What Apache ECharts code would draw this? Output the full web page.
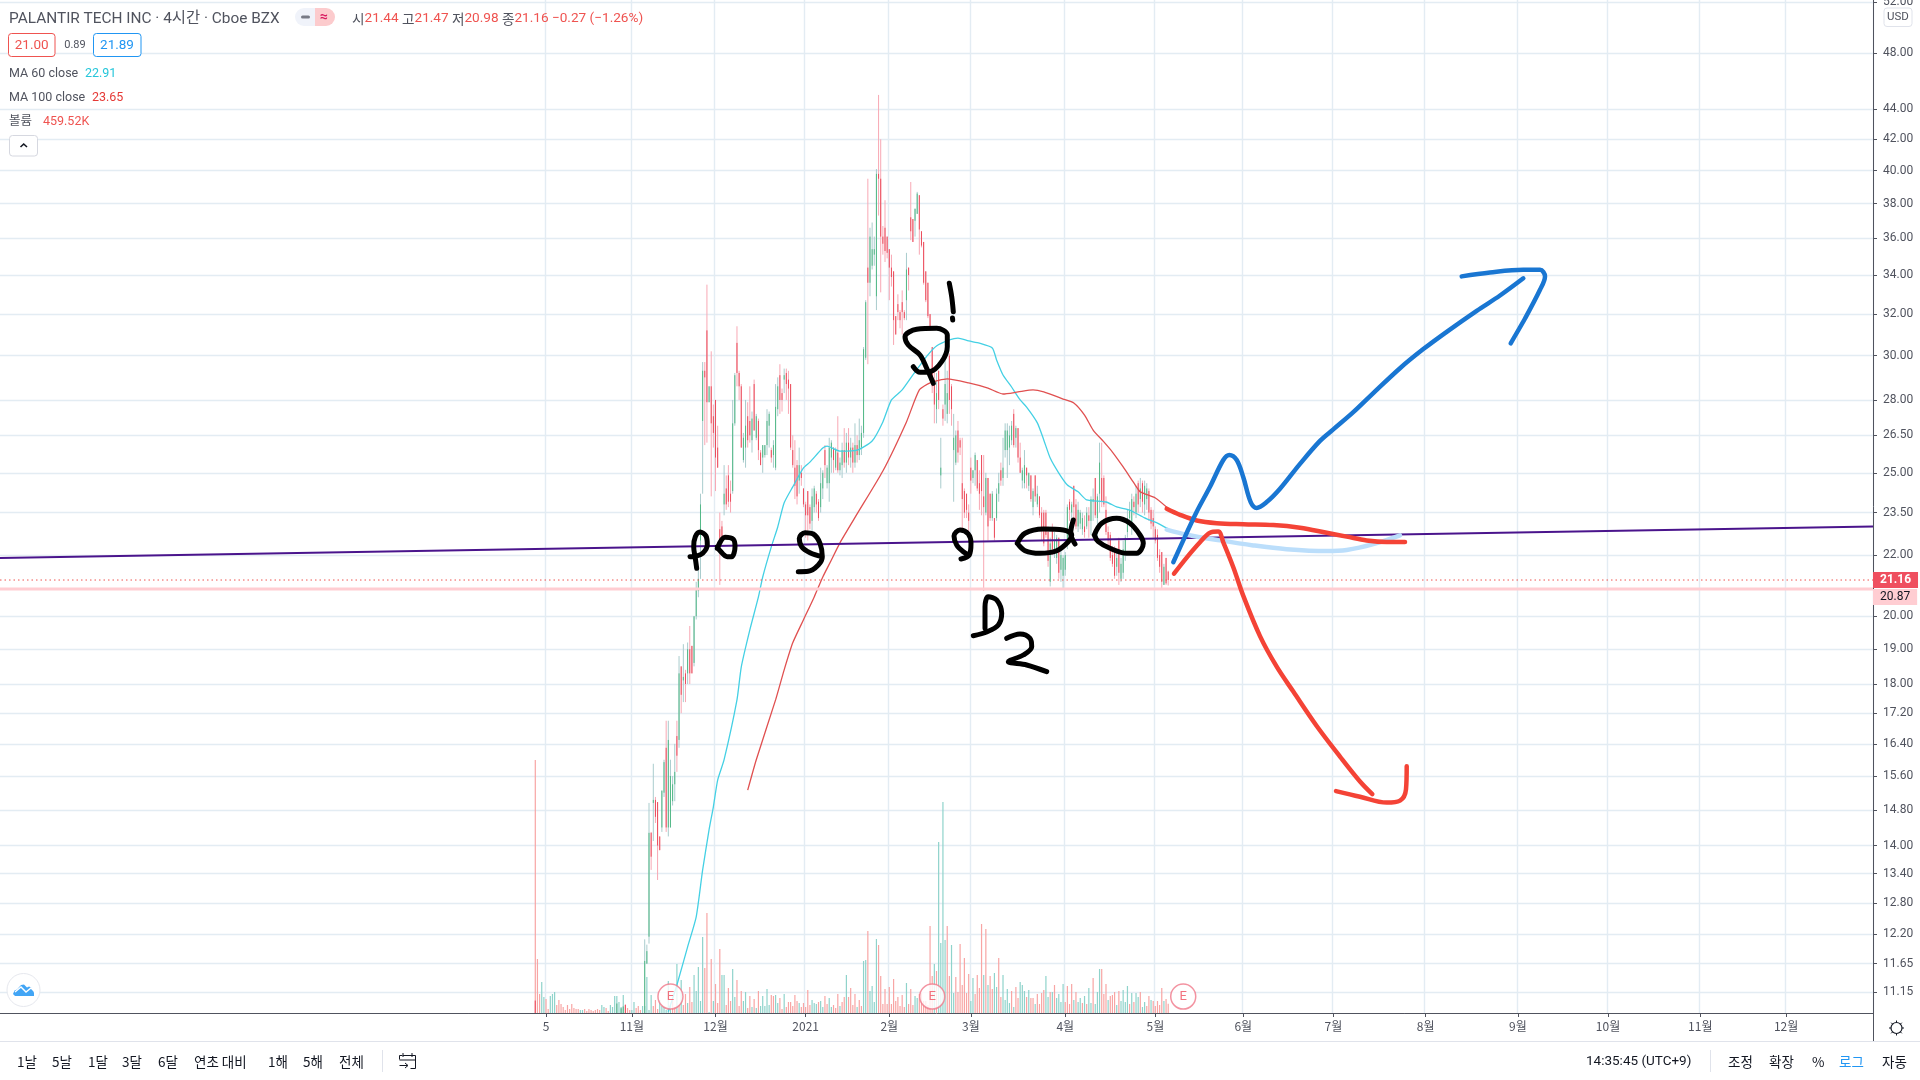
<!DOCTYPE html>
<html><head><meta charset="utf-8">
<style>html,body{margin:0;padding:0;background:#fff}#c{width:1920px;height:1080px}</style>
<script src="https://cdn.jsdelivr.net/npm/echarts@6/dist/echarts.min.js"></script>
</head><body><div id="c"></div>
<script>
// ---------- tick labels ----------
const priceTicks=[52,48,44,42,40,38,36,34,32,30,28,26.5,25,23.5,22,20,19,18,17.2,16.4,15.6,14.8,14,13.4,12.8,12.2,11.65,11.15];
const timeTickLabels=['5','11월','12월','2021','2월','3월','4월','5월','6월','7월','8월','9월','10월','11월','12월'];
const timeTickBars=[5,45,84,126,165,203,247,289,330,372,415,458,500,543,583];
// ---------- candles: first five are the stubs that poke above the axis, the rest run from bar 51 ----------
const stubBars=[0,38,40,41,42];
const openPrices=[11.0,10.5,10.5,10.5,10.93,
10.6,11.65,12.15,14.28,14.96,15.03,14.98,14.2,14.4,15.2,
16.3,14.4,14.4,15.0,15.4,16.6,16.5,18.5,18.1,18.3,
18.3,19.0,19.1,18.6,20.0,20.8,22.5,27.1,29.3,31.2,
27.9,28.6,27.3,28.0,26.0,22.9,23.0,23.8,24.4,24.9,
24.2,24.3,27.0,30.6,29.2,28.6,25.5,26.0,27.3,27.1,
26.3,28.7,26.4,27.1,25.8,25.6,25.7,26.1,26.9,25.9,
25.7,25.2,27.6,29.1,28.3,28.9,29.2,28.9,28.7,25.9,
25.2,25.3,24.7,25.0,24.4,23.8,24.3,23.7,23.2,23.7,
24.2,23.9,23.7,24.4,25.9,24.6,24.6,25.6,26.0,25.2,
25.8,25.1,25.3,25.9,25.4,26.2,25.6,26.0,25.4,26.1,
25.7,26.0,26.6,29.9,34.4,33.6,34.5,35.1,32.9,39.8,
39.5,36.1,36.6,36.1,35.4,34.4,34.2,31.9,32.5,32.1,
32.6,32.1,32.7,34.4,37.2,37.1,37.0,37.4,38.5,36.4,
35.8,34.2,33.6,32.0,30.4,28.7,27.6,29.3,24.9,27.6,
27.8,27.4,30.0,28.6,25.9,25.4,26.7,26.3,24.6,24.3,
24.2,23.5,25.2,24.8,25.1,25.5,24.6,25.7,24.1,23.5,
24.8,24.2,23.3,23.3,23.3,24.2,25.1,24.8,25.9,25.9,
26.0,26.3,27.4,26.4,26.8,25.6,24.7,24.6,25.2,24.5,
24.9,23.7,24.9,23.8,24.1,23.5,23.5,23.5,22.8,21.1,
22.9,22.2,21.9,22.6,21.5,21.3,21.5,22.4,23.9,23.5,
24.5,23.8,23.0,23.1,22.9,23.0,23.0,23.4,23.2,23.9,
24.8,23.3,24.2,24.8,24.8,23.6,22.8,22.7,22.0,22.2,
21.6,22.5,21.2,21.4,22.0,22.8,23.3,23.0,23.9,23.5,
24.6,24.0,24.6,23.8,24.0,24.3,23.6,23.3,22.9,22.7,
22.0,22.1,21.0,21.9,21.44];
const highPrices=[11.0,10.95,10.87,10.9,10.93,
12.1,12.0,14.96,14.3,15.9,15.1,14.98,14.2,15.25,16.0,
17.0,17.0,16.0,15.6,16.4,17.0,18.8,18.5,19.15,18.4,
19.2,19.7,19.1,20.0,21.1,21.5,24.2,29.7,29.7,33.5,
28.6,30.2,27.8,28.0,26.9,23.5,23.2,25.3,24.9,25.3,
24.7,28.0,29.2,31.4,29.3,28.7,26.6,28.0,27.9,28.6,
27.5,28.9,27.4,27.2,25.9,26.1,26.1,27.6,27.5,26.0,
26.3,28.7,29.0,29.6,28.5,29.4,29.4,29.3,28.7,26.5,
26.3,25.5,26.0,25.3,24.4,23.9,24.3,23.8,24.4,24.5,
24.3,24.0,25.2,25.1,26.1,25.3,26.4,26.3,26.0,26.0,
27.3,25.6,26.2,26.8,26.6,26.8,26.4,26.2,27.0,26.5,
27.2,26.9,30.4,32.7,39.5,36.6,36.9,36.1,40.1,45.0,
42.0,36.7,38.2,36.1,35.4,35.1,34.2,31.9,33.0,32.2,
33.2,32.2,35.2,34.4,39.3,37.1,37.7,38.7,38.5,36.4,
35.8,34.2,33.6,32.0,30.4,29.5,29.2,29.3,26.4,27.8,
29.8,29.3,30.1,28.7,27.4,26.7,27.1,26.4,26.4,24.4,
24.2,23.8,25.6,25.1,25.8,25.5,25.1,25.7,25.7,25.0,
24.8,24.2,24.3,23.3,24.4,25.0,25.4,26.4,27.0,27.0,
26.9,27.1,27.6,26.9,26.8,26.2,25.2,25.9,25.2,25.0,
24.9,24.4,24.9,24.5,24.1,23.7,23.6,23.6,23.0,22.6,
23.1,22.8,22.7,22.6,22.2,22.0,22.1,23.8,24.0,23.9,
24.5,24.0,23.9,23.6,23.5,23.4,23.7,23.7,24.1,24.4,
24.8,24.2,26.2,26.2,24.9,24.1,23.0,22.8,22.3,22.3,
22.1,22.6,21.9,22.5,22.7,23.6,23.9,24.2,24.1,24.5,
24.7,24.8,24.7,24.7,24.6,24.4,23.7,23.6,23.0,22.9,
22.2,22.1,21.7,21.9,21.47];
const lowPrices=[10.4,10.4,10.4,10.4,10.4,
10.5,11.65,12.02,13.48,14.1,14.5,13.27,13.9,14.3,15.1,
14.3,14.2,14.4,14.9,15.0,15.7,16.3,17.2,17.5,17.5,
18.0,18.0,18.3,18.5,19.9,20.6,21.2,24.2,26.1,26.2,
27.9,24.1,26.0,24.3,25.2,21.0,22.4,23.4,23.6,23.7,
23.5,24.2,26.9,28.6,28.0,26.0,25.4,25.2,26.0,26.2,
25.8,26.7,26.3,25.5,25.3,25.0,25.6,25.7,26.0,25.4,
25.2,25.1,27.3,27.4,27.5,28.3,28.0,27.4,25.9,25.2,
24.0,23.8,24.2,24.5,23.7,22.6,22.5,22.9,22.8,23.5,
23.5,23.2,23.5,24.0,24.8,24.4,23.9,25.0,25.0,25.1,
25.0,24.9,24.8,25.2,25.0,25.3,25.2,25.0,25.2,25.4,
25.5,25.7,26.4,29.8,29.6,32.9,34.3,34.5,32.2,37.3,
33.1,35.1,34.7,34.9,32.7,33.4,30.5,31.0,31.7,31.3,
31.0,31.7,31.7,33.2,35.9,35.8,36.1,37.4,35.1,35.5,
33.5,32.6,31.8,31.2,28.3,27.0,27.0,27.6,24.4,26.9,
27.1,27.0,27.4,26.9,23.9,25.3,25.4,25.7,22.8,23.3,
23.3,22.5,24.2,24.6,24.5,24.3,23.6,23.4,20.8,23.4,
22.5,23.2,23.2,22.5,23.2,23.9,24.5,24.5,25.6,24.8,
25.3,26.1,26.0,26.0,25.4,25.0,24.4,24.4,24.4,24.3,
23.9,23.4,23.9,23.7,23.3,22.5,22.3,22.6,21.6,20.95,
22.0,21.9,21.7,21.2,21.1,20.85,21.3,22.2,23.2,22.9,
23.3,22.9,22.8,22.9,22.7,22.6,22.9,22.6,22.7,23.2,
23.3,22.6,23.5,23.7,23.7,22.7,22.2,21.8,21.6,21.2,
21.3,21.0,21.1,21.2,21.8,22.6,23.0,22.7,23.4,23.3,
23.5,23.7,23.5,23.4,23.6,23.2,22.9,22.6,22.4,21.8,
21.4,20.85,21.0,21.0,20.98];
const closePrices=[10.5,10.95,10.87,10.9,10.5,
11.7,11.88,14.28,13.76,15.03,14.64,14.0,13.9,15.25,15.94,
14.4,16.5,15.6,15.4,15.7,16.1,18.3,17.7,18.2,18.0,
19.0,18.3,18.3,20.0,20.9,21.2,23.8,29.3,29.0,27.9,
28.6,27.0,26.6,25.6,25.2,22.5,22.6,24.2,23.8,23.9,
23.9,27.0,29.1,29.2,28.6,26.0,26.4,26.9,26.3,26.5,
27.2,26.7,27.3,25.9,25.3,26.1,26.1,27.1,27.4,25.6,
26.1,27.7,28.6,28.0,28.0,29.1,28.7,28.5,26.0,25.3,
24.5,24.1,25.3,24.8,23.8,23.4,23.4,23.1,24.1,24.4,
23.8,23.3,24.6,25.0,25.3,25.2,26.0,26.2,25.5,25.9,
25.1,25.4,25.9,25.4,26.2,25.6,26.0,25.4,26.1,25.7,
26.3,26.6,30.3,32.6,33.6,36.1,35.4,35.4,39.8,39.5,
36.1,35.7,35.3,35.2,34.4,33.9,31.7,31.0,32.1,31.7,
32.1,31.8,34.3,34.0,36.4,35.8,37.7,38.6,36.5,35.6,
33.6,32.7,31.9,31.3,28.6,27.8,28.3,28.0,25.2,27.2,
28.7,28.3,28.0,27.6,26.4,26.5,25.8,26.0,24.0,23.5,
23.6,23.2,24.7,25.1,25.7,24.4,24.2,24.3,23.7,24.8,
23.0,23.3,24.2,22.6,24.2,24.6,24.7,25.2,26.7,26.7,
26.5,26.9,26.1,26.8,25.6,25.0,25.1,25.3,24.9,25.0,
24.0,24.3,24.1,24.2,23.4,22.9,22.4,22.7,21.8,22.4,
22.2,22.5,22.6,21.4,22.0,21.9,22.0,23.7,23.6,23.8,
23.7,23.0,23.6,23.5,23.3,22.8,23.5,23.2,24.0,24.0,
23.4,24.1,25.4,23.9,23.8,22.8,22.5,21.9,21.7,21.3,
21.9,21.4,21.7,22.2,22.6,23.3,23.6,24.0,23.7,24.2,
23.8,24.4,23.9,24.5,24.4,23.5,23.1,23.0,22.5,21.9,
21.6,21.1,21.6,21.05,21.16];
// ---------- volume, thousands of shares, one entry per bar from bar 0 ----------
const volumes=[12650,2700,950,1550,800,700,200,850,950,1050,
400,650,450,300,150,400,200,450,250,200,
200,150,150,200,100,200,150,100,150,200,
150,400,300,250,100,400,300,850,850,550,
300,900,400,250,150,150,550,250,350,150,
350,350,1800,150,900,350,650,200,650,350,
300,150,1600,400,650,300,2450,400,1650,400,
950,500,1300,550,1900,1100,2300,600,3800,2250,
5000,50,2700,600,1450,500,3200,1900,1900,400,
1250,600,2200,800,1650,350,1100,600,1050,250,
850,300,700,250,1100,350,850,350,1200,400,
900,850,900,500,750,200,950,300,550,550,
350,900,600,500,300,500,300,1150,400,650,
500,450,550,600,300,850,450,750,300,400,
250,950,350,550,800,1900,800,1250,400,950,
300,650,
350,2600,2650,4100,1100,1350,550,3700,3400,1850,
450,1200,450,1300,450,1700,600,800,350,900,
300,1500,450,1200,400,850,750,950,1000,600,
600,400,4350,1850,2450,2100,8550,3500,10550,3650,
4350,1850,3400,1000,1800,1050,3450,1400,2750,1000,
1950,600,1750,950,1900,1250,4450,1900,4200,1400,
1850,1200,2000,1300,2750,800,1900,650,1200,500,
1100,300,1300,750,1550,1400,1100,800,1150,750,
750,450,950,450,1000,1150,1850,800,1050,1050,
1400,750,950,550,1450,550,1350,450,1450,650,
1050,550,750,500,850,450,1250,500,1750,450,
1050,2200,2200,950,1450,650,850,900,1050,400,
1100,600,1150,550,1350,450,1000,550,1000,800,
1050,300,550,350,850,650,600,350,600,400,
1250,600,700,459.52];
const volumeSides=('ddduudduuu dddddddddd duuddddddd duudduuuuu uuddduuddd '+
'uuuuuddduu uuuuddudud dudduuuuud dududdduud dduuddduud dududuuuuu dduudduddd dddudddddu uuduudduud dduddudddd ud '+
'duuduuuudd dddddddddd duddduuddd dddd u d uuuu dd uu dddddd d uu dddd u d u dd uu dd uuuu d u dd uuu d u d '+
'd u dddd uu d u d uuuu dddd u d uu d u d uu d u uu ddd u ddd u d uuuu d u d uu d uu dd u dddd d u d d').replace(/ /g,'');
// ---------- moving averages, read at the listed bars ----------
const ma60Bars=[62,66,71,75,78,81,83,85,88,94,96,100,104,106,110,113,116,120,125,128,134,136,142,150,157,162,166,171,176,183,187,193,197,202,207,213,215,218,222,226,229,234,237,240,244,248,253,257,266,271,277,284,290,295];
const ma60Values=[10.81,11.27,11.96,12.53,13.48,14.35,14.87,15.5,16.0,17.56,18.48,19.58,20.61,21.26,22.28,22.98,23.86,24.46,25.19,25.42,25.98,26.06,25.86,25.9,26.27,27.06,28.0,28.44,29.11,30.03,30.45,30.74,30.83,30.69,30.59,30.36,29.8,29.11,28.57,28.0,27.69,27.02,26.31,25.58,24.99,24.53,24.27,23.97,23.89,23.71,23.59,23.31,23.12,22.91];
const ma100Bars=[99,103,112,116,120,125,130,134,138,142,150,162,173,179,184,192,202,211,218,225,232,237,246,251,256,260,265,269,274,279,282,289,295];
const ma100Values=[15.26,16.0,17.56,18.4,19.19,19.89,20.61,21.26,21.83,22.42,23.45,25.07,27.06,28.44,28.75,28.93,28.75,28.52,28.26,28.35,28.44,28.35,28.04,27.87,27.35,26.72,26.23,25.82,25.23,24.61,24.27,24.04,23.65];
// ---------- levels and events ----------
const lastPrice=21.16, bidLine=20.87;
const trendStart=21.9, trendEnd=23.0;
const earningsBars=[63,185,302];
const earningsPrice=11.07;
// ---------- hand-drawn marker strokes, in the sketch layer's own 0..1873 / 0..1013 units ----------
const sketchBlack=[
 [[690,556.7],[696.7,556],[702.7,553.3],[707.3,545],[706,536],[700,532],[695.3,536.7],[693.7,546.7],[695.3,558.3],[696.7,568.3]],
 [[717.3,548.3],[725,537.3],[733.3,539.3],[735,546.7],[731.7,556.7],[727.3,556.7],[720,550.7],[717.3,546.7]],
 [[798.3,571.7],[808.3,571.3],[818.3,565],[822.3,556.7],[820,543.3],[813.3,534],[805,532.7],[799.3,538.3],[801.7,546.7],[810,552.7],[821.7,556.7]],
 [[961,559],[969.3,555],[971,543.3],[968.3,534],[960,530],[954,536],[956.7,545],[963.3,551.7],[969.3,555]],
 [[1017.3,543.3],[1025,533.3],[1043.3,529],[1063.3,530],[1071.7,535],[1068.3,541.7],[1056.7,550.7],[1040,553.3],[1025,550.7],[1017.3,543.3]],
 [[1073.3,520],[1070.7,533.3],[1075,544]],
 [[1094.3,535],[1101.7,523.3],[1116.7,518.3],[1130,523.3],[1140,535],[1143.3,543.3],[1136.7,553.3],[1126.7,553.3],[1110,548.3],[1098.3,541.7],[1094.3,535]],
 [[973.3,635.7],[987.3,631.7],[998.3,625],[1001.7,613.3],[996.7,600],[988.3,596.7],[985,606.7],[985,628.3]],
 [[1006.7,638.3],[1020,634],[1030,638.3],[1031.7,646.7],[1023.3,655],[1008.3,661.7],[1026.7,665],[1046.7,671.7]],
 [[949.3,283.3],[951.7,296.7],[953.3,311.7]],
 [[952.5,318],[952.7,320]],
 [[913.3,366.7],[920,372.3],[930,371.7],[941.7,361.7],[947.3,346.7],[947.3,335],[936.7,328.3],[916.7,329.3],[905,336.7],[908.3,345],[920,355],[926.7,368.3],[933.3,383.3]]
];
const sketchBlue=[
 [[1173.3,562.2],[1185,536.6],[1196.7,511.7],[1210,486.8],[1223.3,460],[1229.3,455],[1236.7,460],[1243.3,477.3],[1250.7,502.1],[1256.7,507.9],[1266.7,502.1],[1280,488.8],[1300,463.9],[1320,440.9],[1333.3,429.4],[1353.3,412.2],[1373.3,393.1],[1400,368.2],[1423.3,349.1],[1446.7,331.8],[1476.7,310.8],[1500,295.5],[1523.3,278.3]],
 [[1461.7,276.4],[1490,272.5],[1523.3,269.8],[1540,269.8],[1545,276.4],[1540,289.8],[1525,318.5],[1510.7,343.3]]
];
const sketchRed=[
 [[1166.7,508.7],[1180,514.8],[1196.7,520.5],[1216.7,523.2],[1243.3,524.3],[1273.3,525.1],[1300,527.8],[1326.7,532.8],[1346.7,536.6],[1366.7,540.4],[1386.7,541.9],[1405,541.9]],
 [[1174,573.7],[1186.7,557.6],[1200,542.3],[1210,532.8],[1218.3,531.6],[1223.3,542.3],[1233.3,567.2],[1243.3,595.9],[1260,636.1],[1276.7,666.7],[1293.3,691.6],[1316.7,726],[1340,756.6],[1360,781.5],[1372.3,794.1]],
 [[1336,791.1],[1360,796.8],[1386.7,802.6],[1400,800.6],[1406,789.2],[1406.7,766.2]]
];
const sketchLightBlue=[
 [[1166.7,529.7],[1186.7,534.7],[1220,540.4],[1253.3,545.4],[1286.7,549.2],[1326.7,551.1],[1346.7,550],[1373.3,544.2],[1400,535.4]]
];

// ---------- assembly ----------
const slotCount=873, firstBarSlot=249, plotW=1873, plotH=1013;
const slots=Array.from({length:slotCount},(_,i)=>String(i));
const slotLabel={}; timeTickBars.forEach((b,i)=>{slotLabel[b+firstBarSlot]=timeTickLabels[i];});
const isTick=(i)=>slotLabel[i]!==undefined;
const barOf=(i)=>(i<stubBars.length?stubBars[i]:51+i-stubBars.length)+firstBarSlot;

const emptyCandle=['-','-','-','-'];
const wickData=slots.map(()=>emptyCandle);
const bodyData=slots.map(()=>emptyCandle);
openPrices.forEach((o,i)=>{
  const c=closePrices[i];
  wickData[barOf(i)]=[o,c,lowPrices[i],highPrices[i]];
  bodyData[barOf(i)]=[o,c,Math.min(o,c),Math.max(o,c)];
});
const volumeData=volumes.map((v,i)=>({value:[i+firstBarSlot,v],itemStyle:{color:volumeSides[i]==='u'?'#8fd3cb':'#f8a5a4'}}));
const maData=(bars,vals)=>bars.map((b,i)=>[b+firstBarSlot,vals[i]]);

const UI='Roboto,"Noto Sans CJK KR",sans-serif';
const KR='"Noto Sans CJK KR",Roboto,sans-serif';
const sketchSeries=(strokes,color,width,name,z)=>strokes.map((d,i)=>({
  name:name+i,type:'line',xAxisIndex:1,yAxisIndex:2,data:d,smooth:0.35,showSymbol:false,symbol:'none',silent:true,z,
  lineStyle:{color,width,cap:'round',join:'round'}}));
const txt=(x,y,text,fill,size,extra)=>({type:'text',x,y,silent:true,z:100,style:Object.assign({text,fill,font:size+'px '+UI,verticalAlign:'middle',align:'left'},extra||{})});
const rect=(x,y,w,h,r,fill,stroke)=>({type:'rect',silent:true,z:99,shape:{x,y,width:w,height:h,r},style:{fill,stroke,lineWidth:1}});
const pl=(points,stroke,lineWidth,z)=>({type:'polyline',silent:true,z:z||100,shape:{points},style:{stroke,lineWidth,fill:null}});
const hr=(x1,y1,x2,y2,stroke)=>({type:'line',silent:true,z:100,shape:{x1,y1,x2,y2},style:{stroke,lineWidth:1}});

const graphics=[
 txt(9,19,'PALANTIR TECH INC · 4시간 · Cboe BZX','#50535e',15.4),
 rect(295,8,20,18,[9,0,0,9],'#f0f3fa',null),
 rect(315,8,20,18,[0,9,9,0],'#fccbcd',null),
 {type:'rect',silent:true,z:100,shape:{x:301,y:15.5,width:9,height:3,r:1.5},style:{fill:'#787b86'}},
 txt(320,17,'≈','#d81b60',14,{font:'bold 14px '+UI}),
 {type:'text',x:352,y:19,silent:true,z:100,style:{text:'{g|시}{r|21.44} {g|고}{r|21.47} {g|저}{r|20.98} {g|종}{r|21.16} {r|−0.27 (−1.26%)}',verticalAlign:'middle',align:'left',
   rich:{g:{fill:'#50535e',font:'13.6px '+KR},r:{fill:'#ef5350',font:'13.6px '+UI}}}},
 rect(8.5,33.5,46.5,23,3,'#fff','#ef5350'),
 txt(31.7,45.5,'21.00','#ef5350',13.5,{align:'center'}),
 txt(75,45.5,'0.89','#50535e',11,{align:'center'}),
 rect(93.5,33.5,47.5,23,3,'#fff','#2196f3'),
 txt(117,45.5,'21.89','#2196f3',13.5,{align:'center'}),
 txt(9,73.5,'MA 60 close','#50535e',12.5), txt(85,73.5,'22.91','#26c6da',12.5),
 txt(9,97.5,'MA 100 close','#50535e',12.5), txt(92,97.5,'23.65','#e53935',12.5),
 txt(9,122,'볼륨','#50535e',12.5), txt(43,122,'459.52K','#ef5350',12.5),
 rect(9.5,135.5,28,20.5,3,'#fff','#d6d8e0'),
 pl([[20.5,147],[23.7,144],[27,147]],'#131722',1.6),
 // price scale furniture
 rect(1884,8,28,18.5,3,'#fff','#e0e3eb'),
 txt(1898,17.5,'USD','#50535e',11.5,{align:'center'}),
 hr(1873.5,1013,1873.5,1041,'#50535e'),
 hr(0,1041.5,1920,1041.5,'#e0e3eb'),
 {type:'circle',silent:true,z:100,shape:{cx:1896.5,cy:1028,r:5.5},style:{fill:'#fff',stroke:'#131722',lineWidth:1.2}},
 hr(1896.5,1020.5,1896.5,1022.5,'#131722'),hr(1896.5,1033.5,1896.5,1035.5,'#131722'),
 hr(1889,1028,1891,1028,'#131722'),hr(1902,1028,1904,1028,'#131722'),
 hr(1891.2,1022.7,1892.6,1024.1,'#131722'),hr(1900.4,1031.9,1901.8,1033.3,'#131722'),
 hr(1891.2,1033.3,1892.6,1031.9,'#131722'),hr(1900.4,1024.1,1901.8,1022.7,'#131722'),
 // logo button
 {type:'circle',silent:true,z:100,shape:{cx:23.5,cy:990,r:16.5},style:{fill:'#fff',stroke:'#e6e8ee',lineWidth:1}},
 {type:'polygon',silent:true,z:101,shape:{points:[[13,994],[14.5,990.5],[17,989.5],[21,985],[24,984.5],[27,987.5],[29,986.5],[31,987.5],[33,990],[34,993],[34,996],[15,996]]},style:{fill:'#42a5f5'}},
 pl([[15,992],[21,987],[26,992],[31,988],[34,991]],'#ffffff',1.4,102),
];
// bottom toolbar
[['1날',17],['5날',52],['1달',88],['3달',122],['6달',158],['연초 대비',194],['1해',268],['5해',303],['전체',339]].forEach(([t,x])=>{
  graphics.push({type:'text',x,y:1062,silent:true,z:100,style:{text:t,fill:'#131722',font:'13.5px '+KR,verticalAlign:'middle',align:'left'}});
});
graphics.push(hr(382.5,1050,382.5,1072,'#e0e3eb'));
graphics.push(pl([[403,1055.5],[415.5,1055.5],[415.5,1068.5],[410.5,1068.5]],'#131722',1));
graphics.push(pl([[399.5,1060],[415.5,1060]],'#131722',1));
graphics.push(pl([[403,1053],[403,1057]],'#131722',1));
graphics.push(pl([[412,1053],[412,1057]],'#131722',1));
graphics.push(pl([[399.5,1059.5],[399.5,1055.5],[402.5,1055.5]],'#131722',1));
graphics.push(pl([[399.5,1065.5],[407.5,1065.5]],'#131722',1));
graphics.push(pl([[405,1063],[408,1065.5],[405,1068]],'#131722',1));
graphics.push({type:'text',x:1586,y:1062,silent:true,z:100,style:{text:'14:35:45 (UTC+9)',fill:'#131722',font:'13.5px '+UI,verticalAlign:'middle',align:'left'}});
graphics.push(hr(1710.5,1050,1710.5,1072,'#e0e3eb'));
[['조정',1728,'#131722'],['확장',1769,'#131722'],['%',1812,'#131722'],['로그',1839,'#2196f3'],['자동',1882,'#131722']].forEach(([t,x,c])=>{
  graphics.push({type:'text',x,y:1062,silent:true,z:100,style:{text:t,fill:c,font:'13.5px '+KR,verticalAlign:'middle',align:'left'}});
});

const option={
 animation:false,
 backgroundColor:'#fff',
 graphic:{elements:graphics},
 grid:{left:0,top:0,width:plotW,height:plotH,containLabel:false,outerBoundsMode:'none'},
 xAxis:[
  {type:'category',data:slots,boundaryGap:true,
   axisLine:{show:true,lineStyle:{color:'#50535e',width:1}},
   axisTick:{show:true,length:4,alignWithLabel:true,interval:(i)=>isTick(i),lineStyle:{color:'#50535e'}},
   axisLabel:{show:true,interval:(i)=>isTick(i),formatter:(v,i)=>slotLabel[i]||'',color:'#50535e',fontSize:12,fontFamily:KR,margin:7,hideOverlap:false},
   splitLine:{show:true,interval:(i)=>isTick(i),lineStyle:{color:'#e3ecf3',width:1.4}}},
  {type:'value',min:0,max:plotW,show:false,splitLine:{show:false}}
 ],
 yAxis:[
  {type:'log',logBase:10,position:'right',min:10.79,max:52.16,
   axisLine:{show:true,onZero:false,lineStyle:{color:'#50535e',width:1}},
   axisTick:{show:true,length:4,customValues:priceTicks,lineStyle:{color:'#50535e'}},
   axisLabel:{show:true,customValues:priceTicks,formatter:(v)=>Number(v).toFixed(2),color:'#50535e',fontSize:12,fontFamily:UI,margin:10},
   splitLine:{show:true,lineStyle:{color:'#e3ecf3',width:1.4}}},
  {type:'value',min:0,max:plotH*50,show:false,splitLine:{show:false}},
  {type:'value',min:0,max:plotH,inverse:true,show:false,splitLine:{show:false}}
 ],
 series:[
  {name:'볼륨',type:'bar',xAxisIndex:0,yAxisIndex:1,data:volumeData,barWidth:1.2,z:1,silent:true},
  {name:'wicks',type:'candlestick',xAxisIndex:0,yAxisIndex:0,data:wickData,barWidth:0.5,z:2,silent:true,
   itemStyle:{color:'#a9cccd',color0:'#f8a8b4',borderColor:'#a9cccd',borderColor0:'#f8a8b4',borderWidth:1}},
  {name:'PALANTIR TECH INC',type:'candlestick',xAxisIndex:0,yAxisIndex:0,data:bodyData,barWidth:0.5,z:3,silent:true,
   itemStyle:{color:'#53b987',color0:'#eb4d5c',borderColor:'#53b987',borderColor0:'#eb4d5c',borderWidth:1}},
  {name:'MA 60 close',type:'line',xAxisIndex:0,yAxisIndex:0,data:maData(ma60Bars,ma60Values),showSymbol:false,symbol:'none',smooth:0.2,z:4,silent:true,lineStyle:{color:'#44d0e4',width:1.3}},
  {name:'MA 100 close',type:'line',xAxisIndex:0,yAxisIndex:0,data:maData(ma100Bars,ma100Values),showSymbol:false,symbol:'none',smooth:0.2,z:4,silent:true,lineStyle:{color:'#e05050',width:1.3}},
  {name:'trend',type:'line',xAxisIndex:1,yAxisIndex:0,data:[[0,trendStart],[plotW,trendEnd]],showSymbol:false,symbol:'none',z:5,silent:true,lineStyle:{color:'#4a148c',width:2}},
  {name:'bid',type:'line',xAxisIndex:1,yAxisIndex:0,data:[[0,bidLine],[plotW,bidLine]],showSymbol:false,symbol:'none',z:4,silent:true,lineStyle:{color:'#ffcdd2',width:3},
   endLabel:{show:true,formatter:()=>bidLine.toFixed(2),color:'#131722',backgroundColor:'#ffcdd2',padding:[2,7,2,7],fontSize:12,fontFamily:UI,distance:0,offset:[0,8]}},
  {name:'last',type:'line',xAxisIndex:1,yAxisIndex:0,data:[[0,lastPrice],[plotW,lastPrice]],showSymbol:false,symbol:'none',z:4,silent:true,lineStyle:{color:'#ef5350',width:1,type:[1.5,3]},
   endLabel:{show:true,formatter:()=>lastPrice.toFixed(2),color:'#fff',backgroundColor:'#ef4f5f',padding:[2,7,2,7],fontSize:12,fontWeight:'bold',fontFamily:UI,distance:0}},
  ...sketchSeries(sketchLightBlue,'#bbdefb',4.5,'sketchLightBlue',6),
  ...sketchSeries(sketchRed,'#f44336',4.5,'sketchRed',7),
  ...sketchSeries(sketchBlue,'#1976d2',4.5,'sketchBlue',8),
  ...sketchSeries(sketchBlack,'#000000',5,'sketchBlack',9),
  {name:'earnings',type:'scatter',xAxisIndex:0,yAxisIndex:0,data:earningsBars.map(b=>[b+firstBarSlot,earningsPrice]),symbol:'circle',symbolSize:25,z:10,silent:true,clip:false,
   itemStyle:{color:'#fff',borderColor:'#f0788a',borderWidth:1.5},
   label:{show:true,position:'inside',formatter:'E',color:'#ef4f5f',fontSize:13,fontFamily:UI}}
 ]
};
echarts.init(document.getElementById('c'),null,{renderer:'canvas'}).setOption(option);
</script></body></html>
